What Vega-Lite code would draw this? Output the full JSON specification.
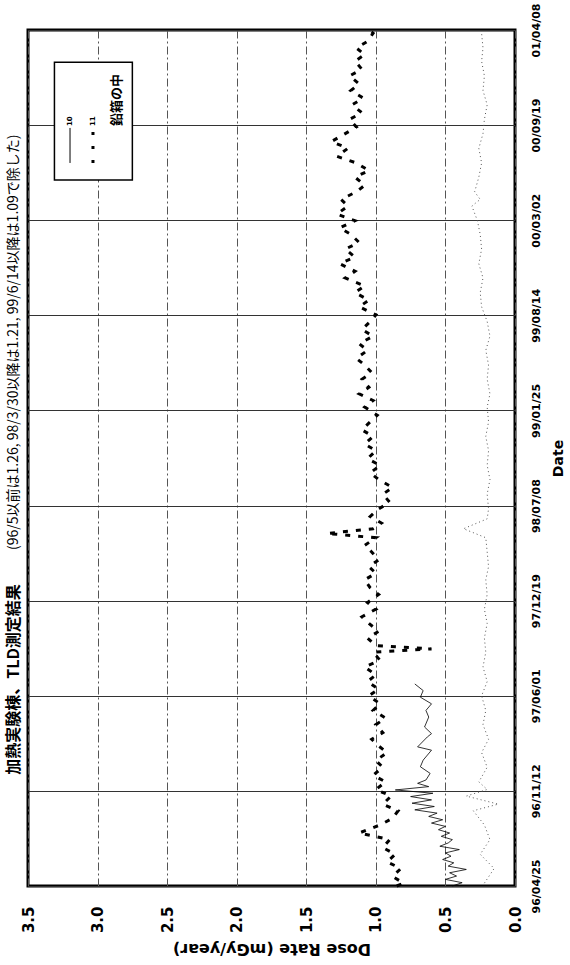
{
"$schema": "https://vega.github.io/schema/vega-lite/v6.json",
"width": 487, "height": 856,
"autosize": "none",
"padding": {"left": 28, "top": 30, "right": 55, "bottom": 79},
"background": "white",
"config": {"view": {"stroke": "#000", "strokeWidth": 3}, "font": "DejaVu Sans"},
"datasets": {
"s11": [
{"date":"1996-04-25","dose":0.85},{"date":"1996-05-01","dose":0.80},{"date":"1996-05-15","dose":0.88},{"date":"1996-06-01","dose":0.82},{"date":"1996-06-15","dose":0.92},{"date":"1996-07-01","dose":0.86},{"date":"1996-07-15","dose":0.95},{"date":"1996-08-01","dose":0.90},{"date":"1996-08-15","dose":1.12},{"date":"1996-09-01","dose":0.97},{"date":"1996-09-15","dose":0.88},{"date":"1996-10-01","dose":0.84},{"date":"1996-10-15","dose":0.95},{"date":"1996-11-01","dose":0.89},{"date":"1996-11-15","dose":1.00},{"date":"1996-12-01","dose":0.93},{"date":"1996-12-15","dose":1.02},
{"date":"1997-01-01","dose":0.95},{"date":"1997-01-15","dose":1.00},{"date":"1997-02-01","dose":0.92},{"date":"1997-02-15","dose":0.98},{"date":"1997-03-01","dose":1.03},{"date":"1997-03-15","dose":0.95},{"date":"1997-04-01","dose":1.00},{"date":"1997-04-15","dose":0.93},{"date":"1997-05-01","dose":1.02},{"date":"1997-05-15","dose":0.97},{"date":"1997-06-01","dose":1.05},{"date":"1997-06-15","dose":0.98},{"date":"1997-07-01","dose":1.06},{"date":"1997-07-15","dose":1.00},{"date":"1997-08-01","dose":1.08},{"date":"1997-08-15","dose":0.97},{"date":"1997-09-01","dose":1.02},{"date":"1997-09-08","dose":0.60},{"date":"1997-09-15","dose":1.00},{"date":"1997-10-01","dose":1.06},{"date":"1997-10-15","dose":0.98},{"date":"1997-11-01","dose":1.05},{"date":"1997-11-15","dose":1.10},{"date":"1997-12-01","dose":1.00},{"date":"1997-12-15","dose":1.06},
{"date":"1998-01-01","dose":0.98},{"date":"1998-01-15","dose":1.04},{"date":"1998-02-01","dose":1.08},{"date":"1998-02-15","dose":1.00},{"date":"1998-03-01","dose":1.05},{"date":"1998-03-15","dose":0.98},{"date":"1998-04-01","dose":1.03},{"date":"1998-04-15","dose":1.08},{"date":"1998-05-01","dose":1.00},{"date":"1998-05-10","dose":1.35},{"date":"1998-05-20","dose":1.02},{"date":"1998-06-01","dose":0.96},{"date":"1998-06-15","dose":1.04},{"date":"1998-07-01","dose":0.98},{"date":"1998-07-15","dose":0.90},{"date":"1998-08-01","dose":0.95},{"date":"1998-08-15","dose":0.88},{"date":"1998-09-01","dose":0.98},{"date":"1998-09-15","dose":1.04},{"date":"1998-10-01","dose":0.97},{"date":"1998-10-15","dose":1.06},{"date":"1998-11-01","dose":1.00},{"date":"1998-11-15","dose":1.08},{"date":"1998-12-01","dose":1.02},{"date":"1998-12-15","dose":1.10},
{"date":"1999-01-01","dose":1.04},{"date":"1999-01-15","dose":0.99},{"date":"1999-02-01","dose":1.08},{"date":"1999-02-15","dose":1.02},{"date":"1999-03-01","dose":1.12},{"date":"1999-03-15","dose":1.05},{"date":"1999-04-01","dose":1.10},{"date":"1999-04-15","dose":1.03},{"date":"1999-05-01","dose":1.08},{"date":"1999-05-15","dose":1.14},{"date":"1999-06-01","dose":1.06},{"date":"1999-06-15","dose":1.12},{"date":"1999-07-01","dose":1.02},{"date":"1999-07-15","dose":1.10},{"date":"1999-08-01","dose":1.04},{"date":"1999-08-15","dose":1.00},{"date":"1999-09-01","dose":1.12},{"date":"1999-09-15","dose":1.05},{"date":"1999-10-01","dose":1.15},{"date":"1999-10-15","dose":1.08},{"date":"1999-11-01","dose":1.22},{"date":"1999-11-15","dose":1.15},{"date":"1999-12-01","dose":1.26},{"date":"1999-12-15","dose":1.15},
{"date":"2000-01-01","dose":1.22},{"date":"2000-01-15","dose":1.12},{"date":"2000-02-01","dose":1.18},{"date":"2000-02-15","dose":1.26},{"date":"2000-03-01","dose":1.15},{"date":"2000-03-15","dose":1.28},{"date":"2000-04-01","dose":1.20},{"date":"2000-04-15","dose":1.25},{"date":"2000-05-01","dose":1.14},{"date":"2000-05-15","dose":1.08},{"date":"2000-06-01","dose":1.15},{"date":"2000-06-15","dose":1.05},{"date":"2000-07-01","dose":1.14},{"date":"2000-07-15","dose":1.28},{"date":"2000-08-01","dose":1.20},{"date":"2000-08-15","dose":1.32},{"date":"2000-09-01","dose":1.22},{"date":"2000-09-15","dose":1.14},{"date":"2000-10-01","dose":1.19},{"date":"2000-10-15","dose":1.10},{"date":"2000-11-01","dose":1.17},{"date":"2000-11-15","dose":1.09},{"date":"2000-12-01","dose":1.18},{"date":"2000-12-15","dose":1.12},
{"date":"2001-01-01","dose":1.19},{"date":"2001-01-15","dose":1.10},{"date":"2001-02-01","dose":1.15},{"date":"2001-02-15","dose":1.08},{"date":"2001-03-01","dose":1.14},{"date":"2001-03-15","dose":1.06},{"date":"2001-04-01","dose":1.02},{"date":"2001-04-08","dose":1.05}
],
"s10": [
{"date":"1996-04-25","dose":0.45},{"date":"1996-05-02","dose":0.38},{"date":"1996-05-09","dose":0.50},{"date":"1996-05-16","dose":0.42},{"date":"1996-05-23","dose":0.47},{"date":"1996-05-30","dose":0.35},{"date":"1996-06-06","dose":0.48},{"date":"1996-06-13","dose":0.44},{"date":"1996-06-20","dose":0.52},{"date":"1996-06-27","dose":0.46},{"date":"1996-07-04","dose":0.50},{"date":"1996-07-11","dose":0.40},{"date":"1996-07-18","dose":0.54},{"date":"1996-07-25","dose":0.48},{"date":"1996-08-01","dose":0.45},{"date":"1996-08-08","dose":0.53},{"date":"1996-08-15","dose":0.47},{"date":"1996-08-22","dose":0.55},{"date":"1996-08-29","dose":0.50},{"date":"1996-09-05","dose":0.60},{"date":"1996-09-12","dose":0.52},{"date":"1996-09-19","dose":0.62},{"date":"1996-09-26","dose":0.56},{"date":"1996-10-03","dose":0.72},{"date":"1996-10-10","dose":0.58},{"date":"1996-10-17","dose":0.74},{"date":"1996-10-24","dose":0.60},{"date":"1996-10-31","dose":0.75},{"date":"1996-11-07","dose":0.59},{"date":"1996-11-14","dose":0.86},{"date":"1996-11-21","dose":0.62},{"date":"1996-11-28","dose":0.70},{"date":"1996-12-05","dose":0.64},{"date":"1996-12-19","dose":0.61},
{"date":"1997-01-02","dose":0.68},{"date":"1997-01-16","dose":0.66},{"date":"1997-02-06","dose":0.60},{"date":"1997-02-13","dose":0.70},{"date":"1997-03-06","dose":0.63},{"date":"1997-03-13","dose":0.60},{"date":"1997-03-27","dose":0.65},{"date":"1997-04-17","dose":0.62},{"date":"1997-05-01","dose":0.64},{"date":"1997-05-15","dose":0.60},{"date":"1997-05-29","dose":0.68},{"date":"1997-06-12","dose":0.66},{"date":"1997-06-26","dose":0.72}
],
"lead": [
{"date":"1996-05-01","dose":0.22},{"date":"1996-06-01","dose":0.15},{"date":"1996-07-01","dose":0.25},{"date":"1996-08-01","dose":0.18},{"date":"1996-09-01","dose":0.22},{"date":"1996-10-01","dose":0.30},{"date":"1996-10-15","dose":0.12},{"date":"1996-11-01","dose":0.35},{"date":"1996-11-15","dose":0.20},{"date":"1996-12-01","dose":0.26},
{"date":"1997-01-01","dose":0.20},{"date":"1997-02-01","dose":0.24},{"date":"1997-03-01","dose":0.19},{"date":"1997-04-01","dose":0.23},{"date":"1997-05-01","dose":0.21},{"date":"1997-06-01","dose":0.24},{"date":"1997-07-01","dose":0.20},{"date":"1997-08-01","dose":0.23},{"date":"1997-09-01","dose":0.21},{"date":"1997-10-01","dose":0.22},{"date":"1997-11-01","dose":0.20},{"date":"1997-12-01","dose":0.22},
{"date":"1998-01-01","dose":0.20},{"date":"1998-02-01","dose":0.21},{"date":"1998-03-01","dose":0.19},{"date":"1998-04-01","dose":0.20},{"date":"1998-05-01","dose":0.21},{"date":"1998-05-20","dose":0.37},{"date":"1998-06-10","dose":0.20},{"date":"1998-07-01","dose":0.19},{"date":"1998-08-01","dose":0.20},{"date":"1998-09-01","dose":0.18},{"date":"1998-10-01","dose":0.20},{"date":"1998-11-01","dose":0.19},{"date":"1998-12-01","dose":0.21},
{"date":"1999-01-01","dose":0.19},{"date":"1999-02-01","dose":0.20},{"date":"1999-03-01","dose":0.18},{"date":"1999-04-01","dose":0.20},{"date":"1999-05-01","dose":0.19},{"date":"1999-06-01","dose":0.21},{"date":"1999-07-01","dose":0.18},{"date":"1999-08-01","dose":0.20},{"date":"1999-09-01","dose":0.24},{"date":"1999-10-01","dose":0.25},{"date":"1999-11-01","dose":0.23},{"date":"1999-12-01","dose":0.26},
{"date":"2000-01-01","dose":0.24},{"date":"2000-02-01","dose":0.25},{"date":"2000-03-01","dose":0.27},{"date":"2000-04-01","dose":0.31},{"date":"2000-04-15","dose":0.25},{"date":"2000-05-01","dose":0.29},{"date":"2000-06-01","dose":0.26},{"date":"2000-07-01","dose":0.24},{"date":"2000-08-01","dose":0.26},{"date":"2000-09-01","dose":0.23},{"date":"2000-10-01","dose":0.22},{"date":"2000-11-01","dose":0.20},{"date":"2000-12-01","dose":0.23},
{"date":"2001-01-01","dose":0.22},{"date":"2001-02-01","dose":0.24},{"date":"2001-03-01","dose":0.23},{"date":"2001-04-01","dose":0.24}
]
},
"layer": [
{
"data": {"name": "lead"},
"mark": {"type": "line", "stroke": "#555", "strokeWidth": 1, "strokeDash": [1, 3]},
"encoding": {
"y": {"field": "date", "type": "temporal",
 "scale": {"type": "utc", "domain": [{"year": 1996, "month": 4, "date": 25, "utc": true}, {"year": 2001, "month": 4, "date": 8, "utc": true}], "nice": false},
 "axis": {"orient": "right",
  "values": [{"year":1996,"month":4,"date":25,"utc":true},{"year":1996,"month":11,"date":12,"utc":true},{"year":1997,"month":6,"date":1,"utc":true},{"year":1997,"month":12,"date":19,"utc":true},{"year":1998,"month":7,"date":8,"utc":true},{"year":1999,"month":1,"date":25,"utc":true},{"year":1999,"month":8,"date":14,"utc":true},{"year":2000,"month":3,"date":2,"utc":true},{"year":2000,"month":9,"date":19,"utc":true},{"year":2001,"month":4,"date":8,"utc":true}],
  "labelExpr": "utcFormat(datum.value, '%y/%m/%d')",
  "labelAngle": -90, "labelAlign": "center", "labelBaseline": "top", "labelPadding": 15,
  "labelFont": "DejaVu Sans", "labelFontWeight": "bold", "labelFontSize": 11, "labelColor": "#000",
  "labelFlush": false, "labelOverlap": false, "labelBound": false,
  "ticks": false, "domain": false,
  "grid": true, "gridColor": "#333", "gridWidth": 1, "gridOpacity": 1,
  "title": "Date", "titleAngle": -90, "titleBaseline": "top", "titlePadding": 10,
  "titleFont": "DejaVu Sans", "titleFontSize": 14, "titleFontWeight": "bold", "titleColor": "#000"}},
"x": {"field": "dose", "type": "quantitative",
 "scale": {"domain": [0, 3.5], "reverse": true, "nice": false, "zero": false},
 "axis": {"orient": "bottom", "values": [0, 0.5, 1, 1.5, 2, 2.5, 3, 3.5], "format": ".1f",
  "labelAngle": -90, "labelAlign": "right", "labelBaseline": "middle", "labelPadding": 20,
  "labelFont": "DejaVu Sans", "labelFontWeight": "bold", "labelFontSize": 15, "labelColor": "#000",
  "labelFlush": false, "labelOverlap": false, "labelBound": false,
  "ticks": false, "domain": false,
  "grid": true, "gridColor": "#555", "gridWidth": 1, "gridOpacity": 1, "gridDash": [8, 3, 2, 3],
  "title": "Dose Rate (mGy/year)", "titleAngle": 180, "titleBaseline": "bottom", "titlePadding": 8,
  "titleFont": "DejaVu Sans", "titleFontSize": 16, "titleFontWeight": "bold", "titleColor": "#000"}},
"order": {"field": "date", "type": "temporal"}
}
},
{
"data": {"name": "s10"},
"mark": {"type": "line", "stroke": "#000", "strokeWidth": 0.8},
"encoding": {
"y": {"field": "date", "type": "temporal"},
"x": {"field": "dose", "type": "quantitative"},
"order": {"field": "date", "type": "temporal"}
}
},
{
"data": {"name": "s11"},
"mark": {"type": "line", "stroke": "#000", "strokeWidth": 3, "strokeDash": [5, 8]},
"encoding": {
"y": {"field": "date", "type": "temporal"},
"x": {"field": "dose", "type": "quantitative"},
"order": {"field": "date", "type": "temporal"}
}
},
{
"data": {"values": [{}]},
"mark": {"type": "rect", "fill": "white", "stroke": "#000", "strokeWidth": 1.5},
"encoding": {
"x": {"datum": 3.31, "type": "quantitative"}, "x2": {"datum": 2.75},
"y": {"datum": {"year": 2001, "month": 1, "date": 30, "utc": true}, "type": "temporal"},
"y2": {"datum": {"year": 2000, "month": 5, "date": 26, "utc": true}}
}
},
{
"data": {"values": [{}]},
"mark": {"type": "rule", "stroke": "#000", "strokeWidth": 1},
"encoding": {
"x": {"datum": 3.198, "type": "quantitative"},
"y": {"datum": {"year": 2000, "month": 7, "date": 1, "utc": true}, "type": "temporal"},
"y2": {"datum": {"year": 2000, "month": 9, "date": 13, "utc": true}}
}
},
{
"data": {"values": [{}]},
"mark": {"type": "rule", "stroke": "#000", "strokeWidth": 3, "strokeDash": [3, 11]},
"encoding": {
"x": {"datum": 3.033, "type": "quantitative"},
"y": {"datum": {"year": 2000, "month": 7, "date": 1, "utc": true}, "type": "temporal"},
"y2": {"datum": {"year": 2000, "month": 9, "date": 13, "utc": true}}
}
},
{
"data": {"values": [{"label": "10"}]},
"mark": {"type": "text", "angle": -90, "align": "left", "baseline": "middle", "fontSize": 7, "fontWeight": "bold", "font": "DejaVu Sans", "color": "#000"},
"encoding": {
"x": {"datum": 3.198, "type": "quantitative"},
"y": {"datum": {"year": 2000, "month": 9, "date": 17, "utc": true}, "type": "temporal"},
"text": {"field": "label"}
}
},
{
"data": {"values": [{"label": "11"}]},
"mark": {"type": "text", "angle": -90, "align": "left", "baseline": "middle", "fontSize": 7, "fontWeight": "bold", "font": "DejaVu Sans", "color": "#000"},
"encoding": {
"x": {"datum": 3.033, "type": "quantitative"},
"y": {"datum": {"year": 2000, "month": 9, "date": 17, "utc": true}, "type": "temporal"},
"text": {"field": "label"}
}
},
{
"data": {"values": [{"label": "鉛箱の中"}]},
"mark": {"type": "text", "angle": -90, "align": "left", "baseline": "middle", "fontSize": 13, "fontWeight": "bold", "font": "Noto Sans CJK JP", "color": "#000"},
"encoding": {
"x": {"datum": 2.86, "type": "quantitative"},
"y": {"datum": {"year": 2000, "month": 9, "date": 17, "utc": true}, "type": "temporal"},
"text": {"field": "label"}
}
},
{
"data": {"values": [{"label": "加熱実験棟、TLD測定結果"}]},
"mark": {"type": "text", "angle": -90, "align": "left", "baseline": "middle", "fontSize": 16, "fontWeight": "bold", "font": "Noto Sans CJK JP", "color": "#000"},
"encoding": {
"x": {"datum": 3.6, "type": "quantitative"},
"y": {"datum": {"year": 1996, "month": 12, "date": 16, "utc": true}, "type": "temporal"},
"text": {"field": "label"}
}
},
{
"data": {"values": [{"label": "(96/5以前は1.26, 98/3/30以降は1.21, 99/6/14以降は1.09で除した)"}]},
"mark": {"type": "text", "angle": -90, "align": "left", "baseline": "middle", "fontSize": 14, "font": "Noto Sans CJK JP", "color": "#000"},
"encoding": {
"x": {"datum": 3.6, "type": "quantitative"},
"y": {"datum": {"year": 1998, "month": 4, "date": 5, "utc": true}, "type": "temporal"},
"text": {"field": "label"}
}
}
]
}
